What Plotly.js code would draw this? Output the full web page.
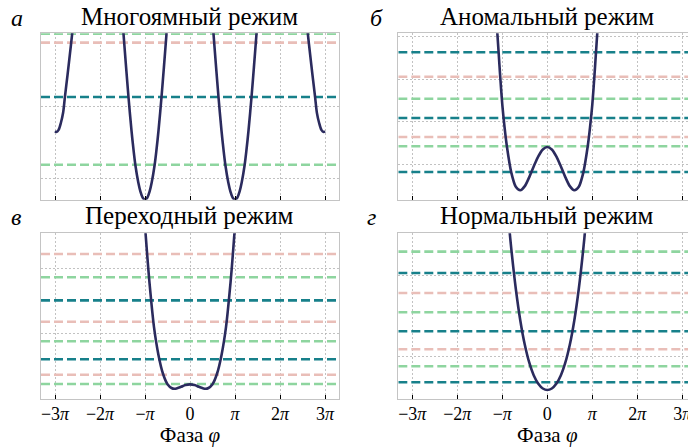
<!DOCTYPE html>
<html>
<head>
<meta charset="utf-8">
<script src="https://cdn.plot.ly/plotly-3.0.1.min.js"></script>
<style>
html,body{margin:0;padding:0;background:#fff;width:688px;height:448px;overflow:hidden}
#wrap{width:688px;height:448px;overflow:hidden;position:relative}
#chart{width:700px;height:448px}
</style>
</head>
<body>
<div id="wrap"><div id="chart"></div></div>
<script>
// ---------- DATA ----------
// Phase φ is given in units of π; potential U in arbitrary units (per panel)
const xTickVals = [-3, -2, -1, 0, 1, 2, 3];
const xTickText = ['−3<i>π</i>', '−2<i>π</i>', '−<i>π</i>', '0', '<i>π</i>', '2<i>π</i>', '3<i>π</i>'];
const panelTitles = ['Многоямный режим', 'Аномальный режим', 'Переходный режим', 'Нормальный режим'];
const panelLetters = ['а', 'б', 'в', 'г'];
const xAxisTitle = 'Фаза <i>φ</i>';

// а — Многоямный режим
const phiA = [-3.00,-2.97,-2.92,-2.87,-2.82,-2.78,-2.72,-2.67,-2.62,-2.57,null,
  -1.52,-1.478,-1.42,-1.367,-1.30,-1.25,-1.215,-1.15,-1.10,-1.05,-1.00,-0.95,-0.90,-0.85,-0.785,-0.75,-0.70,-0.633,-0.58,-0.522,-0.48,null,
  0.48,0.522,0.58,0.633,0.70,0.75,0.785,0.85,0.90,0.95,1.00,1.05,1.10,1.15,1.215,1.25,1.30,1.367,1.42,1.478,1.52,null,
  2.57,2.62,2.67,2.72,2.78,2.82,2.87,2.92,2.97,3.00];
const uA = [32.8,32.3,33.8,38.5,45.5,56.3,72,85.5,99.5,115,null,
  116.5,100,76.7,56.4,33.2,18.6,9.8,-2.2,-8.8,-12.9,-14.2,-12.9,-8.8,-2.2,9.8,18.6,33.2,56.4,76.7,100,116.5,null,
  116.5,100,76.7,56.4,33.2,18.6,9.8,-2.2,-8.8,-12.9,-14.2,-12.9,-8.8,-2.2,9.8,18.6,33.2,56.4,76.7,100,116.5,null,
  115,99.5,85.5,72,56.3,45.5,38.5,33.8,32.3,32.8];
const levelsA1 = [56.4];          // teal
const levelsA2 = [9.8, 100.0];    // green
const levelsA3 = [93.8];          // pink
const yRangeA = [-14.24, 100.2];
const yGridA = [0, 50, 100];

// б — Аномальный режим
const phiB = [-1.14,-1.11,-1.08,-1.05,-1.00,-0.95,-0.90,-0.80,-0.70,-0.60,-0.50,-0.40,-0.30,-0.20,-0.10,0,
  0.10,0.20,0.30,0.40,0.50,0.60,0.70,0.80,0.90,0.95,1.00,1.05,1.08,1.11,1.14];
const uB = [36.0,30.8,26.0,21.2,14.0,8.7,4.34,-1.97,-5.30,-6.14,-5.16,-3.03,-0.48,1.86,3.48,4.05,
  3.48,1.86,-0.48,-3.03,-5.16,-6.14,-5.30,-1.97,4.34,8.7,14.0,21.2,26.0,30.8,36.0];
const levelsB1 = [-1.84, 10.87, 26.33];
const levelsB2 = [4.21, 15.41];
const levelsB3 = [6.40, 20.59];
const yRangeB = [-8.35, 30.8];
const yGridB = [0, 10, 20, 30];

// в — Переходный режим
const phiC = [-1.03,-1.00,-0.95,-0.90,-0.80,-0.70,-0.60,-0.50,-0.40,-0.35,-0.30,-0.20,-0.10,0,
  0.10,0.20,0.30,0.35,0.40,0.50,0.60,0.70,0.80,0.90,0.95,1.00,1.03];
const uC = [29.6,26.6,22.0,17.8,11.0,6.7,3.84,2.24,1.61,1.54,1.58,1.83,2.10,2.20,
  2.10,1.83,1.58,1.54,1.61,2.24,3.84,6.7,11.0,17.8,22.0,26.6,29.6];
const levelsC1 = [6.06, 15.13];
const levelsC2 = [2.26, 8.83, 18.67];
const levelsC3 = [3.69, 11.84, 22.26];
const yRangeC = [0, 25.44];
const yGridC = [0, 10, 20];

// г — Нормальный режим
const phiD = [-0.90,-0.85,-0.80,-0.70,-0.60,-0.50,-0.40,-0.30,-0.20,-0.10,0,
  0.10,0.20,0.30,0.40,0.50,0.60,0.70,0.80,0.85,0.90];
const uD = [29.24,26.09,23.22,18.31,14.41,11.42,9.21,7.64,6.62,6.04,5.855,
  6.04,6.62,7.64,9.21,11.42,14.41,18.31,23.22,26.09,29.24];
const levelsD1 = [6.80, 13.08, 20.25];
const levelsD2 = [8.77, 15.41, 22.87];
const levelsD3 = [10.86, 17.79];
const yRangeD = [4.785, 25.13];
const yGridD = [10, 20];

// ---------- STYLE ----------
const XR = [-3.311, 3.311];
const curveColor = '#2b2b5e';
const levelColors = ['#17808a', '#8ed59f', '#e9beb8'];
const FONT = 'Liberation Serif, serif';
const W = 700, H = 448;

const panels = [
  {phi: phiA, u: uA, lv: [levelsA1, levelsA2, levelsA3], yr: yRangeA, yg: yGridA,
   xd: [41, 339], yd: [33.3, 199.7], bottom: false},
  {phi: phiB, u: uB, lv: [levelsB1, levelsB2, levelsB3], yr: yRangeB, yg: yGridB,
   xd: [398.3, 696.3], yd: [33.3, 199.7], bottom: false},
  {phi: phiC, u: uC, lv: [levelsC1, levelsC2, levelsC3], yr: yRangeC, yg: yGridC,
   xd: [41, 339], yd: [233.3, 398.7], bottom: true},
  {phi: phiD, u: uD, lv: [levelsD1, levelsD2, levelsD3], yr: yRangeD, yg: yGridD,
   xd: [398.3, 696.3], yd: [233.3, 398.7], bottom: true}
];

const traces = [];
const layout = {
  width: W, height: H,
  margin: {l: 0, r: 0, t: 0, b: 0},
  paper_bgcolor: '#fff', plot_bgcolor: '#fff',
  showlegend: false,
  font: {family: FONT, color: '#000'},
  annotations: []
};

panels.forEach((p, i) => {
  const n = i === 0 ? '' : String(i + 1);
  const xa = 'x' + n, ya = 'y' + n;
  // energy levels
  p.lv.forEach((arr, k) => {
    const xs = [], ys = [];
    arr.forEach(v => { xs.push(XR[0], XR[1], null); ys.push(v, v, null); });
    traces.push({
      type: 'scatter', mode: 'lines', x: xs, y: ys, xaxis: xa, yaxis: ya,
      line: {color: levelColors[k], width: 2.6, dash: '9px,4px'},
      hoverinfo: 'skip', connectgaps: false
    });
  });
  // potential curve
  traces.push({
    type: 'scatter', mode: 'lines', x: p.phi, y: p.u, xaxis: xa, yaxis: ya,
    line: {color: curveColor, width: 2.6, shape: 'spline', smoothing: 0.8},
    connectgaps: false, hoverinfo: 'skip'
  });

  layout['xaxis' + n] = {
    domain: [p.xd[0] / W, p.xd[1] / W],
    range: XR, anchor: ya,
    tickmode: 'array', tickvals: xTickVals, ticktext: xTickText,
    ticks: 'inside', ticklen: 4, tickwidth: 1, tickcolor: '#000',
    showticklabels: p.bottom, ticklabelstandoff: -2,
    tickfont: {family: FONT, size: 18, color: '#000'},
    showgrid: true, gridcolor: '#b3b3b3', gridwidth: 0.8, griddash: '2px,2px',
    zeroline: false, showline: true, mirror: true, linecolor: '#c4c4c4', linewidth: 1.2,
    title: p.bottom ? {text: xAxisTitle, font: {family: FONT, size: 21, color: '#000'}, standoff: 1} : {text: ''}
  };
  layout['yaxis' + n] = {
    domain: [1 - p.yd[1] / H, 1 - p.yd[0] / H],
    range: p.yr, anchor: xa,
    tickmode: 'array', tickvals: p.yg, showticklabels: false, ticks: '',
    showgrid: true, gridcolor: '#b3b3b3', gridwidth: 0.8, griddash: '2px,2px',
    zeroline: false, showline: true, mirror: true, linecolor: '#c4c4c4', linewidth: 1.2
  };

  const cx = (p.xd[0] + p.xd[1]) / 2;
  const ty = i < 2 ? 16.5 : 215.5;
  layout.annotations.push({
    text: panelTitles[i], xref: 'paper', yref: 'paper',
    x: cx / W, y: 1 - ty / H, xanchor: 'center', yanchor: 'middle',
    showarrow: false, font: {family: FONT, size: 25, color: '#000'}
  });
  const lx = [17, 376, 16, 371][i];
  layout.annotations.push({
    text: '<i>' + panelLetters[i] + '</i>', xref: 'paper', yref: 'paper',
    x: lx / W, y: 1 - (ty + 1) / H, xanchor: 'center', yanchor: 'middle',
    showarrow: false, font: {family: FONT, size: 24, color: '#000'}
  });
});

Plotly.newPlot('chart', traces, layout, {displayModeBar: false, staticPlot: true});
</script>
</body>
</html>
